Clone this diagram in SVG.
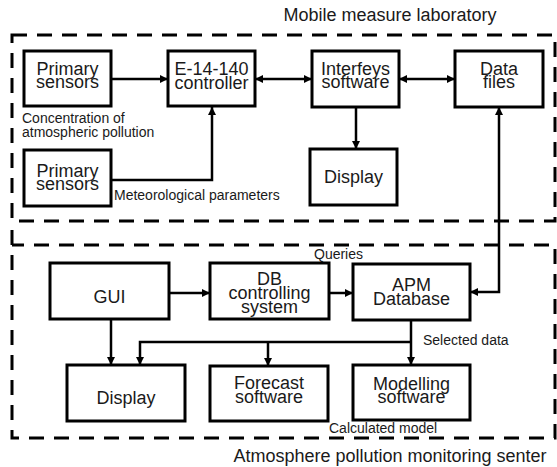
<svg xmlns="http://www.w3.org/2000/svg" width="557" height="467" viewBox="0 0 557 467">
<style>
.bg{fill:#fff}
.box{fill:#fff;stroke:#000;stroke-width:3}
.dash{fill:none;stroke:#000;stroke-width:3;stroke-dasharray:15 10}
.t{font-family:"Liberation Sans",Arial,sans-serif;font-size:18px;fill:#1a1a1a;text-anchor:middle}
.l{font-family:"Liberation Sans",Arial,sans-serif;font-size:14px;fill:#1a1a1a}
.c{fill:none;stroke:#000;stroke-width:2.5}
</style>
<defs>
<marker id="ah" markerUnits="userSpaceOnUse" markerWidth="10" markerHeight="10" refX="8" refY="4" orient="auto">
<path d="M0,0 L8,4 L0,8 Z" fill="#000"/>
</marker>
<marker id="as" markerUnits="userSpaceOnUse" markerWidth="10" markerHeight="10" refX="0" refY="4" orient="auto">
<path d="M8,0 L0,4 L8,8 Z" fill="#000"/>
</marker>
</defs>
<rect class="bg" x="0" y="0" width="557" height="467"/>

<g id="frames">
<path class="dash" d="M12,35 H555 V221 H12 Z"/>
<path class="dash" d="M12,230 V438 H555 V245 H12"/>
<text class="l" x="390" y="21" style="font-size:18px;text-anchor:middle">Mobile measure laboratory</text>
<text class="l" x="390" y="462" style="font-size:18px;text-anchor:middle">Atmosphere pollution monitoring senter</text>
</g>

<g id="connectors">
<path class="c" d="M111,79 H168" marker-end="url(#ah)"/>
<path class="c" d="M255,79 H312" marker-start="url(#as)" marker-end="url(#ah)"/>
<path class="c" d="M399,79 H455" marker-start="url(#as)" marker-end="url(#ah)"/>
<path class="c" d="M356,107 V149" marker-end="url(#ah)"/>
<path class="c" d="M111,180 H212 V107" marker-end="url(#ah)"/>
<path class="c" d="M470,292 H499 V107" marker-start="url(#as)" marker-end="url(#ah)"/>
<path class="c" d="M169,293 H210" marker-end="url(#ah)"/>
<path class="c" d="M329,293 H353" marker-end="url(#ah)"/>
<path class="c" d="M111,319 V365" marker-end="url(#ah)"/>
<path class="c" d="M411,320 V365" marker-end="url(#ah)"/>
<path class="c" d="M411,342 H140 V365" marker-end="url(#ah)"/>
<path class="c" d="M268,342 V366" marker-end="url(#ah)"/>
<text class="l" x="314" y="259">Queries</text>
<text class="l" x="423" y="345">Selected data</text>
<text class="l" x="329" y="433">Calculated model</text>
<text class="l" x="22" y="123">Concentration of</text>
<text class="l" x="22" y="137">atmospheric pollution</text>
<text class="l" x="114" y="200">Meteorological parameters</text>
</g>

<g id="primary-sensors-1">
<rect class="box" x="24" y="51" width="87" height="55"/>
<text class="t" x="67.5" y="75">Primary</text>
<text class="t" x="67.5" y="88">sensors</text>
</g>
<g id="controller">
<rect class="box" x="168" y="51" width="87" height="55"/>
<text class="t" x="211.5" y="75">E-14-140</text>
<text class="t" x="211.5" y="89">controller</text>
</g>
<g id="interfeys-software">
<rect class="box" x="312" y="51" width="87" height="56"/>
<text class="t" x="355.5" y="75">Interfeys</text>
<text class="t" x="355.5" y="88">software</text>
</g>
<g id="data-files">
<rect class="box" x="455" y="51" width="88" height="56"/>
<text class="t" x="499" y="75">Data</text>
<text class="t" x="499" y="88">files</text>
</g>
<g id="primary-sensors-2">
<rect class="box" x="24" y="150" width="87" height="56"/>
<text class="t" x="67.5" y="177">Primary</text>
<text class="t" x="67.5" y="190">sensors</text>
</g>
<g id="display-top">
<rect class="box" x="310" y="149" width="87" height="56"/>
<text class="t" x="353.5" y="183">Display</text>
</g>
<g id="gui">
<rect class="box" x="50" y="263" width="119" height="56"/>
<text class="t" x="109.5" y="303">GUI</text>
</g>
<g id="db-controlling-system">
<rect class="box" x="210" y="263" width="119" height="56"/>
<text class="t" x="269.5" y="285">DB</text>
<text class="t" x="269.5" y="299">controlling</text>
<text class="t" x="269.5" y="313">system</text>
</g>
<g id="apm-database">
<rect class="box" x="353" y="264" width="117" height="56"/>
<text class="t" x="411.5" y="291">APM</text>
<text class="t" x="411.5" y="305">Database</text>
</g>
<g id="display-bottom">
<rect class="box" x="67" y="365" width="118" height="56"/>
<text class="t" x="126" y="404">Display</text>
</g>
<g id="forecast-software">
<rect class="box" x="210" y="366" width="118" height="55"/>
<text class="t" x="269" y="389">Forecast</text>
<text class="t" x="269" y="403">software</text>
</g>
<g id="modelling-software">
<rect class="box" x="353" y="365" width="117" height="55"/>
<text class="t" x="411.5" y="390">Modelling</text>
<text class="t" x="411.5" y="403">software</text>
</g>
</svg>
